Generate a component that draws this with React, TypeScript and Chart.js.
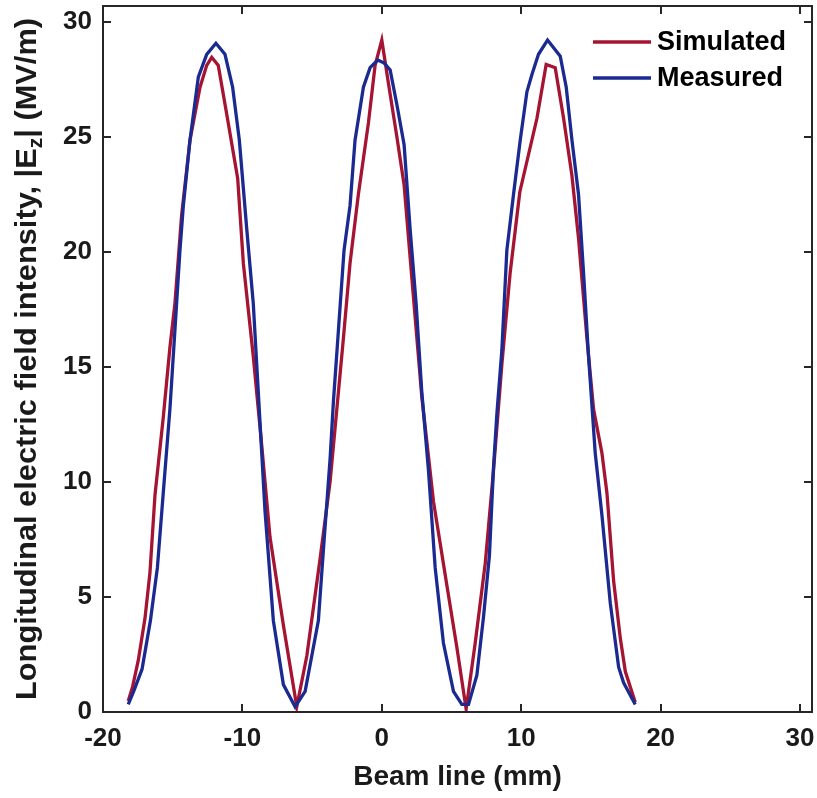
import { useEffect, useRef } from 'react';
import { Chart, registerables } from 'chart.js';

Chart.register(...registerables);

// ---------- data ----------
const simX = [-18.19, -17.88, -17.47, -16.99, -16.63, -16.27, -15.68, -15.2, -14.84, -14.36, -13.76, -13.04, -12.56, -12.2, -11.73, -11.13, -10.34, -9.93, -9.22, -8.62, -8.02, -7.06, -6.1, -5.38, -4.43, -3.71, -2.76, -2.28, -1.68, -0.96, -0.48, 0, 0.48, 1.08, 1.6, 2.15, 2.87, 3.71, 4.67, 5.38, 6.05, 6.7, 7.42, 8.01, 8.61, 9.21, 9.9, 11.13, 11.79, 12.44, 13.04, 13.64, 14.11, 14.72, 15.19, 15.79, 16.15, 16.63, 17.11, 17.47, 18.18];
const simY = [0.48, 1.09, 2.24, 4.06, 6.07, 9.43, 12.78, 15.84, 17.76, 21.59, 24.85, 27.15, 28.1, 28.45, 28.1, 26.0, 23.2, 19.48, 15.46, 11.63, 7.6, 3.77, 0.23, 2.43, 6.65, 10.0, 16.2, 19.5, 22.5, 25.6, 28.1, 29.2, 27.3, 25.0, 22.9, 18.9, 13.7, 9.14, 5.5, 2.82, 0.13, 3.0, 6.46, 10.48, 15.08, 19.1, 22.6, 25.8, 28.14, 28.0, 25.8, 23.3, 20.6, 16.2, 13.16, 11.25, 9.52, 5.69, 3.2, 1.76, 0.42];

const measX = [-18.19, -17.8, -17.2, -16.6, -16.1, -15.68, -15.2, -14.84, -14.48, -14.24, -13.76, -13.16, -12.56, -11.9, -11.25, -10.7, -10.22, -9.69, -9.22, -8.97, -8.38, -7.78, -7.06, -6.22, -5.5, -4.55, -4.19, -3.71, -3.47, -3.11, -2.71, -2.28, -1.92, -1.32, -0.84, -0.29, 0.17, 0.6, 1.08, 1.6, 2.03, 2.46, 2.87, 3.35, 3.83, 4.42, 5.14, 5.74, 6.22, 6.82, 7.29, 7.72, 8.01, 8.26, 8.61, 8.97, 9.45, 9.93, 10.41, 10.77, 11.24, 11.89, 12.8, 13.23, 13.64, 14.11, 14.47, 14.83, 15.31, 15.79, 16.39, 16.99, 17.34, 18.18];
const measY = [0.33, 0.9, 1.86, 3.97, 6.26, 9.5, 13.16, 16.6, 20.06, 21.97, 24.85, 27.6, 28.58, 29.06, 28.58, 27.15, 24.85, 21.0, 17.76, 15.08, 8.75, 3.97, 1.19, 0.23, 0.9, 3.97, 7.03, 11.0, 13.5, 16.6, 20.06, 22.0, 24.85, 27.15, 28.0, 28.33, 28.2, 27.9, 26.4, 24.65, 21.0, 17.76, 13.9, 10.48, 6.26, 3.0, 0.9, 0.33, 0.33, 1.6, 4.1, 6.8, 10.6, 13.0, 15.7, 20.06, 22.5, 24.85, 26.95, 27.7, 28.58, 29.2, 28.5, 27.15, 24.85, 22.5, 19.1, 15.46, 11.25, 8.56, 4.73, 1.95, 1.28, 0.33];

const seriesLabels = ['Simulated', 'Measured'];
const seriesColors = ['#A51432', '#1A2A91'];
const xTicks = [-20, -10, 0, 10, 20, 30];
const yTicks = [0, 5, 10, 15, 20, 25, 30];
const xRange = [-20, 30.86];
const yRange = [0, 30.68];
const xTitle = 'Beam line (mm)';
const yTitleMain = 'Longitudinal electric field intensity, |E';
const yTitleSub = 'z';
const yTitleEnd = '| (MV/m)';

const FONT = '"Liberation Sans", Arial, Helvetica, sans-serif';
const AXIS = '#262626';

const framePlugin = {
  id: 'frameTicks',
  afterDatasetsDraw(chart: any) {
    const { ctx, chartArea: a, scales } = chart;
    ctx.save();
    ctx.strokeStyle = AXIS;
    ctx.lineWidth = 2;
    ctx.strokeRect(a.left, a.top, a.right - a.left, a.bottom - a.top);
    const L = 8;
    ctx.beginPath();
    for (const v of xTicks) {
      const px = Math.round(scales.x.getPixelForValue(v));
      ctx.moveTo(px, a.bottom);
      ctx.lineTo(px, a.bottom - L);
      ctx.moveTo(px, a.top);
      ctx.lineTo(px, a.top + L);
    }
    for (const v of yTicks) {
      const py = Math.round(scales.y.getPixelForValue(v));
      ctx.moveTo(a.left, py);
      ctx.lineTo(a.left + L, py);
      ctx.moveTo(a.right, py);
      ctx.lineTo(a.right - L, py);
    }
    ctx.stroke();
    ctx.restore();
  },
};

const legendPlugin = {
  id: 'lineLegend',
  afterDraw(chart: any) {
    const { ctx, chartArea: a } = chart;
    ctx.save();
    ctx.font = `bold 27px ${FONT}`;
    ctx.textBaseline = 'middle';
    ctx.textAlign = 'left';
    chart.data.datasets.forEach((ds: any, i: number) => {
      const y = a.top + 36 + i * 36;
      ctx.strokeStyle = ds.borderColor;
      ctx.lineWidth = 3.3;
      ctx.beginPath();
      ctx.moveTo(a.right - 219, y);
      ctx.lineTo(a.right - 161, y);
      ctx.stroke();
      ctx.fillStyle = '#000';
      ctx.fillText(ds.label, a.right - 155, y + 1);
    });
    ctx.restore();
  },
};

const yTitlePlugin = {
  id: 'yTitle',
  afterDraw(chart: any) {
    const { ctx, chartArea: a } = chart;
    const cy = (a.top + a.bottom) / 2;
    const big = `bold 29px ${FONT}`;
    const small = `bold 20px ${FONT}`;
    ctx.save();
    ctx.font = big;
    const w1 = ctx.measureText(yTitleMain).width;
    const w3 = ctx.measureText(yTitleEnd).width;
    ctx.font = small;
    const w2 = ctx.measureText(yTitleSub).width;
    const total = w1 + w2 + w3;
    const target = 682;
    ctx.translate(36, cy);
    ctx.rotate(-Math.PI / 2);
    ctx.scale(target / total, 1);
    ctx.fillStyle = '#1a1a1a';
    ctx.textBaseline = 'alphabetic';
    ctx.textAlign = 'left';
    let x = -total / 2;
    ctx.font = big;
    ctx.fillText(yTitleMain, x, 0);
    x += w1;
    ctx.font = small;
    ctx.fillText(yTitleSub, x, 6);
    x += w2;
    ctx.font = big;
    ctx.fillText(yTitleEnd, x, 0);
    ctx.restore();
  },
};

export default function App() {
  const ref = useRef<HTMLCanvasElement>(null);

  useEffect(() => {
    if (!ref.current) return;
    const chart = new Chart(ref.current, {
      type: 'scatter',
      data: {
        datasets: [
          {
            label: seriesLabels[0],
            data: simX.map((x, i) => ({ x, y: simY[i] })),
            borderColor: seriesColors[0],
            backgroundColor: seriesColors[0],
            borderWidth: 3.3,
            showLine: true,
            pointRadius: 0,
            tension: 0,
            order: 1,
          },
          {
            label: seriesLabels[1],
            data: measX.map((x, i) => ({ x, y: measY[i] })),
            borderColor: seriesColors[1],
            backgroundColor: seriesColors[1],
            borderWidth: 3.3,
            showLine: true,
            pointRadius: 0,
            tension: 0,
            order: 0,
          },
        ],
      },
      options: {
        responsive: false,
        maintainAspectRatio: false,
        animation: false,
        layout: { padding: { left: 0, right: 5, top: 6, bottom: 0 } },
        plugins: {
          legend: { display: false },
          tooltip: { enabled: false },
        },
        scales: {
          x: {
            type: 'linear',
            min: xRange[0],
            max: xRange[1],
            afterBuildTicks: (s: any) => {
              s.ticks = xTicks.map((v) => ({ value: v }));
            },
            afterFit: (s: any) => {
              s.height = 86;
              s.paddingLeft = 0;
              s.paddingRight = 0;
            },
            grid: { display: false, drawTicks: false },
            border: { display: false },
            ticks: {
              font: { family: FONT, size: 26, weight: 'bold' },
              color: '#1a1a1a',
              padding: 11,
              maxRotation: 0,
              autoSkip: false,
            },
            title: {
              display: true,
              text: xTitle,
              font: { family: FONT, size: 28, weight: 'bold' },
              color: '#1a1a1a',
              padding: { top: 4, bottom: 4 },
            },
          },
          y: {
            type: 'linear',
            min: yRange[0],
            max: yRange[1],
            afterBuildTicks: (s: any) => {
              s.ticks = yTicks.map((v) => ({ value: v }));
            },
            afterFit: (s: any) => {
              s.width = 103;
              s.paddingTop = 0;
              s.paddingBottom = 0;
            },
            grid: { display: false, drawTicks: false },
            border: { display: false },
            ticks: {
              font: { family: FONT, size: 26, weight: 'bold' },
              color: '#1a1a1a',
              padding: 11,
              autoSkip: false,
            },
          },
        },
      },
      plugins: [framePlugin, legendPlugin, yTitlePlugin],
    } as any);
    return () => chart.destroy();
  }, []);

  return (
    <div style={{ position: 'fixed', left: 0, top: 0, width: 817, height: 798, background: '#fff' }}>
      <canvas ref={ref} width={817} height={798} style={{ display: 'block' }} />
    </div>
  );
}
